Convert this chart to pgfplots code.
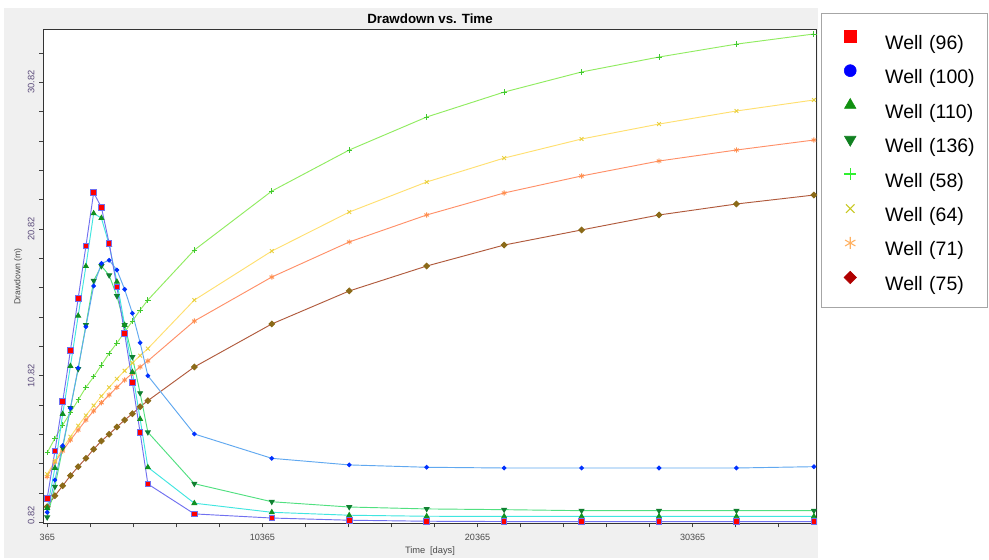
\documentclass[border=0pt]{standalone}
\usepackage{pgfplots}
\usepackage{pgfplotstable}
\pgfplotsset{compat=1.18}
\usepackage{fontspec}
\setmainfont{Liberation Sans}
\definecolor{panel}{HTML}{F0F0F0}
\definecolor{ylab}{HTML}{5A4A7A}
\definecolor{xlab}{HTML}{4A4A4A}
\definecolor{l96}{HTML}{7070F0}
\definecolor{m96}{HTML}{FF0000}
\definecolor{l100}{HTML}{60A8F0}
\definecolor{m100}{HTML}{0030FF}
\definecolor{l110}{HTML}{40E6E0}
\definecolor{m110}{HTML}{109020}
\definecolor{l136}{HTML}{50E080}
\definecolor{m136}{HTML}{108030}
\definecolor{l58}{HTML}{90EC60}
\definecolor{m58}{HTML}{40C830}
\definecolor{l64}{HTML}{FFE070}
\definecolor{m64}{HTML}{E8D040}
\definecolor{l71}{HTML}{FF9068}
\definecolor{m71}{HTML}{FF9050}
\definecolor{l75}{HTML}{B05A3C}
\definecolor{m75}{HTML}{8B6A18}
\definecolor{g58}{HTML}{30F030}
\definecolor{g64}{HTML}{C8C820}
\definecolor{g71}{HTML}{FFB060}
\definecolor{g75}{HTML}{B00000}
\definecolor{g110}{HTML}{109010}
\definecolor{g136}{HTML}{108020}

\pgfplotstableread{
t     w96   w100  w110  w136  w58   w64   w71   w75
360   2.46  1.50  1.79  1.16  5.56  4.10  3.93  1.88
720   5.68  3.70  4.52  3.25  6.55  5.00  4.93  2.63
1080  9.04  6.04  8.20  5.88  7.45  5.85  5.68  3.31
1440  12.53 8.59  11.47 8.61  8.29  6.65  6.43  4.00
1800  16.09 11.34 14.90 11.27 9.16  7.40  7.11  4.61
2160  19.65 14.15 18.28 14.27 10.02 8.10  7.79  5.18
2520  23.29 16.93 21.88 17.29 10.74 8.78  8.41  5.80
2880  22.29 18.47 21.56 18.29 11.54 9.42  8.97  6.36
3240  19.84 18.68 19.74 17.66 12.34 10.02 9.50  6.82
3600  16.86 18.02 17.22 16.25 13.04 10.60 10.02 7.32
3960  13.70 16.70 14.27 14.27 13.79 11.15 10.52 7.79
4320  10.36 15.07 11.06 12.09 14.54 11.68 10.98 8.22
4680  6.93  13.06 7.86  9.63  15.29 12.18 11.41 8.70
5040  3.43  10.81 4.57  6.96  15.97 12.66 11.82 9.11
7200  1.39  6.84  2.12  3.45  19.38 15.97 14.54 11.41
10800 1.11  5.18  1.50  2.22  23.40 19.31 17.54 14.34
14400 0.96  4.73  1.30  1.86  26.20 21.97 19.93 16.59
18000 0.89  4.57  1.23  1.73  28.45 24.02 21.77 18.29
21600 0.87  4.52  1.22  1.68  30.15 25.65 23.27 19.72
25200 0.87  4.52  1.22  1.61  31.52 26.95 24.43 20.75
28800 0.87  4.52  1.22  1.61  32.54 27.97 25.45 21.77
32400 0.87  4.52  1.22  1.61  33.42 28.86 26.20 22.52
36000 0.87  4.61  1.22  1.61  34.11 29.61 26.88 23.13
}\data

\begin{document}
\begin{tikzpicture}
\fill[white] (0,0) rectangle (741.75pt,418.5pt);
\fill[panel] (3pt,0) rectangle (613.5pt,412.5pt);
\begin{axis}[
  at={(32.475pt,26.025pt)}, anchor=south west,
  scale only axis, width=580.05pt, height=370.5pt,
  xmin=179, xmax=36130, ymin=0.75, ymax=34.43,
  scaled x ticks=false, scaled y ticks=false,
  axis background/.style={fill=white},
  axis line style={draw=black!80, line width=0.6pt},
  xtick={365,10365,20365,30365},
  xticklabels={365,10365,20365,30365},
  minor xtick={2365,4365,6365,8365,12365,14365,16365,18365,22365,24365,26365,28365,32365,34365},
  ytick={0.82,10.82,20.82,30.82},
  yticklabels={\hspace*{10.5pt}0.82,10.82,20.82,30.82},
  minor ytick={2.82,4.82,6.82,8.82,12.82,14.82,16.82,18.82,22.82,24.82,26.82,28.82,32.82},
  tick align=outside, xtick pos=left, ytick pos=left,
  major tick length=3pt, minor tick length=3pt,
  every tick/.style={black!75, line width=0.5pt},
  xticklabel style={font=\fontsize{6.8}{8}\selectfont, text=xlab, inner sep=0pt, anchor=north, yshift=-5pt},
  yticklabel style={font=\fontsize{7}{8}\selectfont, text=ylab, inner sep=0pt, xshift=-3.75pt, rotate=90, anchor=base},
  title={Drawdown vs. Time},
  every axis title shift=0pt,
  title style={at={(axis description cs:0.5,1.0209)}, anchor=center, font=\fontsize{10}{11}\selectfont\bfseries},
  xlabel={Time\enspace[days]},
  xlabel style={at={(axis description cs:0.5,-0.056)}, anchor=center, font=\fontsize{7}{8}\selectfont, text=xlab},
  ylabel={Drawdown (m)},
  ylabel style={at={(axis description cs:-0.0327,0.5)}, anchor=center, font=\fontsize{6.5}{8}\selectfont, text=xlab},
  legend style={at={(1,1)}, anchor=north west, xshift=3.2pt, yshift=12.2pt,
    draw=gray!70, fill=white, inner xsep=0pt, inner ysep=6.875pt, row sep=0pt, column sep=14.25pt,
    font=\fontsize{14.6}{17}\selectfont, nodes={inner sep=0pt, text width=76.5pt, align=left}},
  legend cell align=left,
  legend image code/.code={\pgfpathrectangle{\pgfpoint{-21.75pt}{-10.35pt}}{\pgfpoint{33.75pt}{25.85pt}}\pgfusepath{discard}
    \draw plot coordinates {(0pt,5.2pt)};},
]
\addplot[l75, line width=0.7pt, mark=square*, mark size=1.5pt, mark options={rotate=45, fill=m75, draw=m75}, forget plot] table[x=t,y=w75]{\data};
\addplot[l71, line width=0.7pt, mark=asterisk, mark size=2pt, mark options={draw=m71}, forget plot] table[x=t,y=w71]{\data};
\addplot[l64, line width=0.7pt, mark=x, mark size=2pt, mark options={draw=m64}, forget plot] table[x=t,y=w64]{\data};
\addplot[l58, line width=0.7pt, mark=+, mark size=2pt, mark options={draw=m58}, forget plot] table[x=t,y=w58]{\data};
\addplot[l136, line width=0.7pt, mark=triangle*, mark size=2pt, mark options={rotate=180, fill=m136, draw=m136}, forget plot] table[x=t,y=w136]{\data};
\addplot[l110, line width=0.7pt, mark=triangle*, mark size=2pt, mark options={fill=m110, draw=m110}, forget plot] table[x=t,y=w110]{\data};
\addplot[l100, line width=0.7pt, mark=*, mark size=1.4pt, mark options={fill=m100, draw=m100}, forget plot] table[x=t,y=w100]{\data};
\addplot[l96, line width=0.7pt, mark=square*, mark size=2.1pt, mark options={fill=m96, draw=l96}, forget plot] table[x=t,y=w96]{\data};

\addlegendimage{only marks, mark=square*, mark size=4.5pt, m96}
\addlegendentry{Well (96)}
\addlegendimage{only marks, mark=*, mark size=4.5pt, blue}
\addlegendentry{Well (100)}
\addlegendimage{only marks, mark=triangle*, mark size=5pt, g110}
\addlegendentry{Well (110)}
\addlegendimage{only marks, mark=triangle*, mark size=5pt, mark options={rotate=180}, g136}
\addlegendentry{Well (136)}
\addlegendimage{only marks, mark=+, mark size=4.5pt, line width=0.9pt, g58}
\addlegendentry{Well (58)}
\addlegendimage{only marks, mark=x, mark size=4.5pt, line width=0.8pt, g64}
\addlegendentry{Well (64)}
\addlegendimage{only marks, mark=asterisk, mark size=4.5pt, line width=0.8pt, g71}
\addlegendentry{Well (71)}
\addlegendimage{only marks, mark=square*, mark size=3.3pt, mark options={rotate=45}, g75}
\addlegendentry{Well (75)}
\end{axis}
\end{tikzpicture}
\end{document}
